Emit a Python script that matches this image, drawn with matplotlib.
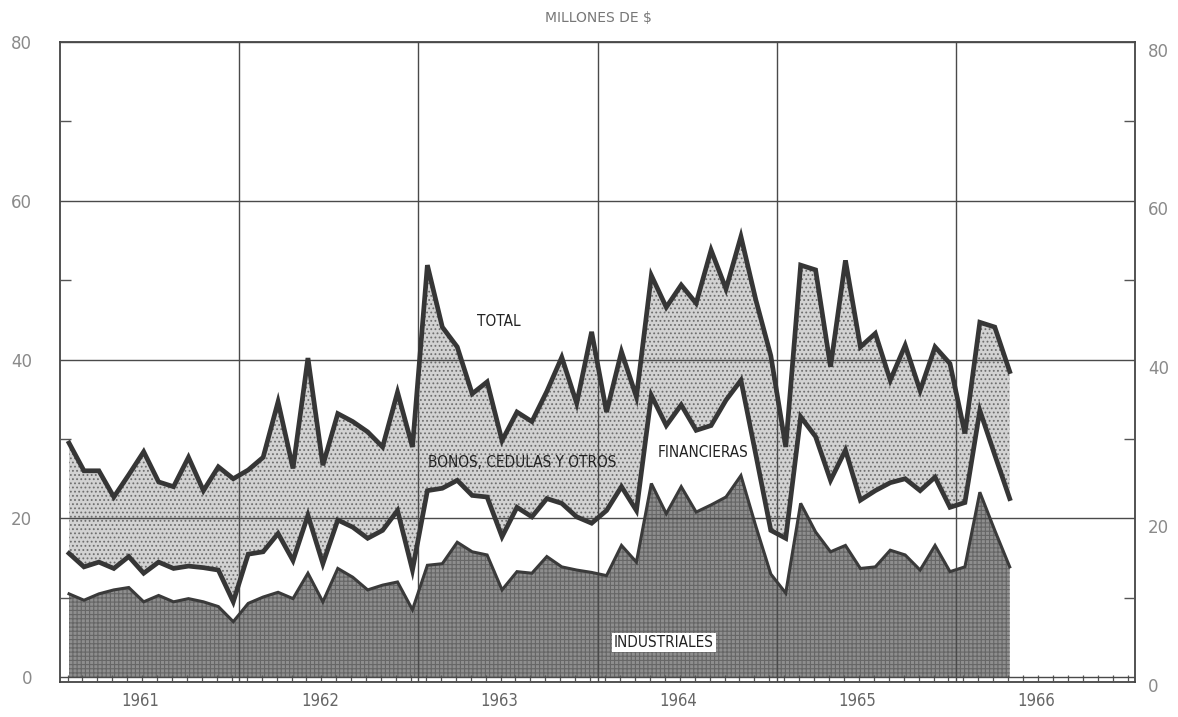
import matplotlib
matplotlib.use("Agg")
import matplotlib.pyplot as plt
import numpy as np

# ---------------- data (millones de $), monthly Jan 1961 - Apr 1966 ----------------
years = [1961, 1962, 1963, 1964, 1965, 1966]
year_labels = ["1961", "1962", "1963", "1964", "1965", "1966"]

# TOTAL (top line)
total = [
    29.5, 26.0, 26.0, 22.7, 25.5, 28.4, 24.6, 24.0, 27.7, 23.5, 26.5, 25.0,
    26.1, 27.7, 34.7, 26.3, 40.2, 26.7, 33.2, 32.2, 30.9, 29.0, 35.9, 29.0,
    51.9, 44.1, 41.6, 35.7, 37.2, 29.8, 33.4, 32.2, 36.0, 40.3, 34.5, 43.5,
    33.4, 41.0, 35.3, 50.6, 46.6, 49.4, 47.1, 53.8, 48.9, 55.5, 47.5, 40.5,
    29.0, 51.9, 51.3, 39.1, 52.5, 41.6, 43.3, 37.4, 41.8, 36.1, 41.6, 39.5,
    30.7, 44.7, 44.1, 38.5,
]
# INDUSTRIALES + FINANCIERAS (middle line)
industriales_financieras = [
    15.6, 13.9, 14.5, 13.7, 15.2, 13.1, 14.5, 13.7, 14.0, 13.8, 13.5, 9.5,
    15.5, 15.8, 18.1, 14.7, 20.4, 14.3, 19.8, 18.9, 17.5, 18.5, 21.0, 13.5,
    23.5, 23.8, 24.8, 22.9, 22.7, 17.7, 21.4, 20.2, 22.5, 21.9, 20.2, 19.4,
    21.0, 24.0, 21.0, 35.5, 31.7, 34.3, 31.1, 31.7, 34.9, 37.4, 28.0, 18.5,
    17.5, 32.8, 30.3, 24.8, 28.6, 22.3, 23.5, 24.5, 25.0, 23.5, 25.2, 21.4,
    22.0, 33.6, 28.0, 22.5,
]
# INDUSTRIALES (bottom area)
industriales = [
    10.5, 9.7, 10.5, 11.0, 11.3, 9.5, 10.3, 9.5, 9.9, 9.5, 8.9, 7.0,
    9.3, 10.1, 10.7, 9.9, 13.1, 9.5, 13.7, 12.6, 11.0, 11.6, 12.0, 8.5,
    14.1, 14.3, 17.0, 15.8, 15.4, 11.0, 13.3, 13.1, 15.2, 13.9, 13.5, 13.2,
    12.8, 16.6, 14.5, 24.4, 20.6, 24.0, 20.8, 21.7, 22.7, 25.4, 19.0, 13.0,
    10.6, 21.9, 18.3, 15.8, 16.6, 13.7, 13.9, 16.0, 15.4, 13.5, 16.6, 13.3,
    13.9, 23.3, 18.5, 13.9,
]
y_ticks = [0, 20, 40, 60, 80]
y_tick_labels = ["0", "20", "40", "60", "80"]
y_minor = [10, 30, 50, 70]

plt.rcParams["hatch.linewidth"] = 0.8

n = len(total)
x = years[0] + (np.arange(n) + 0.6) / 12.0

fig = plt.figure(figsize=(11.78, 7.17), dpi=100)
ax = fig.add_axes([0.051, 0.0488, 0.9126, 0.8926])

# filled bands
ax.fill_between(x, 0, industriales, facecolor="#8e8e8e", edgecolor="#666666",
                hatch="++++", linewidth=0, zorder=1)
ax.fill_between(x, industriales_financieras, total, facecolor="#d2d2d2",
                edgecolor="#6e6e6e", hatch="....", linewidth=0, zorder=1)

# boundary lines
ax.plot(x, total, color="#363636", lw=3.4, zorder=4, solid_joinstyle="miter")
ax.plot(x, industriales_financieras, color="#363636", lw=3.4, zorder=4,
        solid_joinstyle="miter")
ax.plot(x, industriales, color="#3a3a3a", lw=2.2, zorder=4, solid_joinstyle="miter")

# axes limits & grid
ax.set_xlim(years[0], years[-1] + 1)
ax.set_ylim(-0.6, 80)
ax.set_xticks(years[1:])
ax.set_xticklabels([])
ax.set_yticks(y_ticks)
ax.set_yticklabels(y_tick_labels)
ax.set_yticks(y_minor, minor=True)
ax.set_xticks(years[0] + np.arange(0, 72) / 12.0 + 0.5 / 12, minor=True)
ax.set_axisbelow(False)
ax.grid(True, which="major", color="#4a4a4a", lw=1.0, zorder=2.5)

ax.tick_params(axis="x", which="major", length=0)
ax.tick_params(axis="x", which="minor", direction="in", length=5, width=0.9,
               color="#555555")
ax.tick_params(axis="y", which="major", length=0, labelleft=True, labelright=False,
               labelsize=12, labelcolor="#8a8a8a", pad=20)
ax.tick_params(axis="y", which="minor", direction="in", length=8, width=1.0,
               left=True, right=True, color="#555555")
for sp in ax.spines.values():
    sp.set_color("#444444")
    sp.set_linewidth(1.3)

# right-hand value labels (slightly lower as in the original print)
for v, lab in zip(y_ticks, y_tick_labels):
    ax.text(1.012, v - 1.2, lab, transform=ax.get_yaxis_transform(),
            ha="left", va="center", fontsize=12, color="#8a8a8a")

# year labels centred in each year band
for yr, lab in zip(years, year_labels):
    ax.text(yr + 0.45, -0.015, lab, transform=ax.get_xaxis_transform(),
            ha="center", va="top", fontsize=12, color="#666666",
            fontstretch="condensed")

# title
fig.text(0.508, 0.975, "MILLONES DE $", ha="center", va="center",
         fontsize=10, color="#777777")

# series labels
lab_kw = dict(ha="center", va="center", fontsize=11, color="#222222",
              fontstretch="condensed", zorder=5)
ax.text(1963.45, 44.8, "TOTAL", **lab_kw)
ax.text(1963.58, 27.0, "BONOS, CEDULAS Y OTROS", **lab_kw)
ax.text(1964.59, 28.3, "FINANCIERAS", **lab_kw)
ax.text(1964.37, 4.4, "INDUSTRIALES",
        bbox=dict(boxstyle="square,pad=0.15", facecolor="white", edgecolor="none"),
        **lab_kw)

fig.savefig("out.png", dpi=100, facecolor="white")
